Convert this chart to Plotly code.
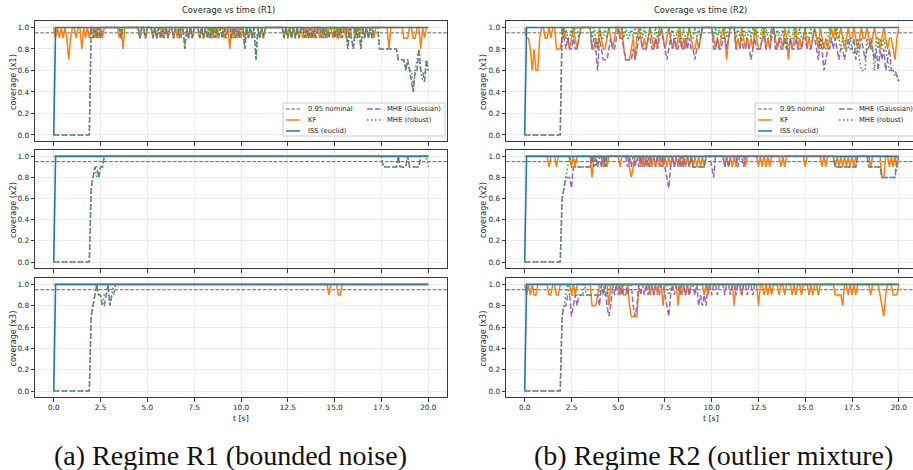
import numpy as np
import plotly.graph_objects as go

# ---------------- data ----------------
DT = 0.1          # sampling step of the coverage series [s]
T_END = 20.0
BASE = 1.0        # value of every sample not listed in a run list
NOMINAL = 0.95

X_TICKS = [0.0, 2.5, 5.0, 7.5, 10.0, 12.5, 15.0, 17.5, 20.0]
Y_TICKS = [0.0, 0.2, 0.4, 0.6, 0.8, 1.0]
STATES = ["x1", "x2", "x3"]
SERIES = ["KF", "ISS (euclid)", "MHE (Gaussian)", "MHE (robust)"]

# run lists: (t, v) single sample, (t0, t1, v) run, (t0, [v, v, ...]) consecutive samples
iss_runs = [(0.0, 0.0)]

# ---- Regime R1 ----
kf_r1_x1 = [(0.1, 0.9), (0.3, 0.9), (0.5, 0.9), (0.7, [0.9, 0.7, 0.9]), (1.2, 0.9), (1.5, 0.8),
            (1.7, 0.9), (1.9, 0.9), (2.2, 0.9), (2.4, 0.9), (2.6, 0.9), (3.5, 0.9), (3.7, 0.8),
            (4.6, 0.9), (4.9, 0.9), (5.3, 0.9), (5.5, 0.9), (5.8, 0.9), (6.1, 0.9), (6.4, 0.9),
            (6.6, 0.9), (6.8, 0.9), (7.2, 0.9), (7.4, 0.9), (7.8, 0.9), (8.0, 0.9), (8.3, 0.9),
            (8.5, 0.9), (8.7, 0.9), (9.1, 0.9), (9.4, 0.8), (9.6, 0.9), (9.8, 0.9), (10.0, 0.9),
            (10.2, 0.9), (10.4, 0.9), (10.6, 0.9), (11.0, 0.9), (11.2, 0.9), (12.3, 0.9),
            (12.5, 0.9), (12.7, 0.9), (12.9, 0.9), (13.1, 0.9), (13.3, 0.9), (13.5, 0.9),
            (13.7, 0.9), (13.9, 0.9), (14.2, 0.9), (14.4, 0.9), (14.6, 0.9), (14.9, 0.9),
            (15.1, 0.9), (15.3, 0.9), (15.6, 0.9), (15.8, 0.9), (16.1, 0.9), (16.3, 0.9),
            (16.6, 0.9), (16.8, 0.9), (17.1, 0.9), (17.9, 0.8), (18.7, 18.9, 0.9),
            (19.2, 19.3, 0.9), (19.6, 0.8), (19.8, 0.9)]
mhe_g_r1_x1 = [(0.0, 1.9, 0.0), (2.1, 0.9), (2.3, 0.9), (2.5, 0.9), (3.6, 0.9), (4.6, 0.9),
               (4.9, 0.9), (5.3, 0.9), (5.5, 0.9), (5.7, 0.9), (5.9, 0.9), (6.1, 0.9), (6.4, 0.9),
               (6.7, 0.9), (7.0, 0.8), (7.2, 0.9), (7.4, 0.9), (7.8, 0.9), (8.0, 0.9), (8.2, 0.9),
               (8.4, 0.9), (8.6, 0.9), (8.8, 0.9), (9.0, 0.9), (9.2, 0.9), (9.5, 0.9), (9.7, 0.9),
               (9.9, 0.9), (10.2, 0.8), (10.4, 0.9), (10.6, 0.9), (10.8, 0.7), (11.0, 0.9),
               (11.2, 0.9), (12.3, 0.9), (12.5, 0.9), (12.7, 0.9), (12.9, 0.9), (13.1, 0.9),
               (13.4, 0.9), (13.6, 0.9), (13.8, 0.9), (14.0, 0.9), (14.3, 0.9), (14.5, 0.9),
               (14.7, 0.9), (15.0, 0.9), (15.2, 0.9), (15.4, 0.9), (15.7, 0.8), (15.9, 0.9),
               (16.0, 0.8), (16.2, 0.9), (16.4, 0.8), (16.6, 0.9), (16.8, 0.9), (17.0, 0.9),
               (17.4, 18.3, 0.8), (18.4, 18.7, 0.7),
               (18.8, [0.6, 0.7, 0.6, 0.5, 0.4, 0.6, 0.6, 0.8, 0.6, 0.6, 0.5, 0.7, 0.6])]
mhe_r_r1_x1 = [(0.0, 1.9, 0.0), (2.1, 0.9), (2.3, 0.9), (2.5, 0.9), (3.6, 0.9), (4.6, 0.9),
               (4.9, 0.9), (5.3, 0.9), (5.5, 0.9), (5.7, 0.9), (5.9, 0.9), (6.1, 0.9), (6.4, 0.9),
               (6.7, 0.9), (7.0, 0.8), (7.2, 0.9), (7.4, 0.9), (7.8, 0.9), (8.0, 0.9), (8.2, 0.9),
               (8.4, 0.9), (8.6, 0.9), (8.8, 0.9), (9.0, 0.9), (9.2, 0.9), (9.5, 0.9), (9.7, 0.9),
               (9.9, 0.9), (10.2, 0.8), (10.4, 0.9), (10.6, 0.9), (10.8, 0.7), (11.0, 0.9),
               (11.2, 0.9), (12.3, 0.9), (12.5, 0.9), (12.7, 0.9), (12.9, 0.9), (13.1, 0.9),
               (13.4, 0.9), (13.6, 0.9), (13.8, 0.9), (14.0, 0.9), (14.3, 0.9), (14.5, 0.9),
               (14.7, 0.9), (15.0, 0.9), (15.2, 0.9), (15.4, 0.9), (15.7, 0.8), (15.9, 0.9),
               (16.0, 0.8), (16.2, 0.9), (16.4, 0.8), (16.6, 0.9), (16.8, 0.9), (17.0, 0.9),
               (17.4, 18.3, 0.8), (18.4, 18.7, 0.7),
               (18.8, [0.6, 0.7, 0.6, 0.6, 0.4, 0.6, 0.7, 0.8, 0.6, 0.5, 0.5, 0.7, 0.6])]

kf_r1_x2 = []
mhe_g_r1_x2 = [(0.0, 1.9, 0.0), (2.0, [0.7, 0.8, 0.9, 0.9, 0.8, 0.9, 0.9]),
               (17.6, 18.3, 0.9), (18.5, 18.8, 0.9), (19.0, 19.5, 0.9)]
mhe_r_r1_x2 = [(0.0, 1.9, 0.0), (2.0, [0.7, 0.8, 0.9, 0.8, 0.8, 0.9, 0.9]),
               (17.6, 18.3, 0.9), (18.5, 18.8, 0.9), (19.0, 19.5, 0.9), (20.0, 0.9)]

kf_r1_x3 = [(14.7, 0.9), (15.2, 15.3, 0.9)]
mhe_g_r1_x3 = [(0.0, 1.9, 0.0),
               (2.0, [0.7, 0.8, 0.9, 1.0, 0.9, 0.9, 0.8, 0.8, 0.9, 1.0, 0.8, 0.9, 0.9])]
mhe_r_r1_x3 = [(0.0, 1.9, 0.0),
               (2.0, [0.7, 0.8, 0.9, 1.0, 0.9, 0.9, 0.8, 0.9, 0.9, 1.0, 0.8, 0.9, 1.0])]

# ---- Regime R2 ----
kf_r2_x1 = [(0.1, [0.9, 0.9, 0.8, 0.6, 0.8, 0.6, 0.6, 0.9, 1.0, 1.0,
                   0.9, 0.9, 1.0, 0.9, 1.0, 1.0, 0.8, 0.8, 0.8, 0.9]),
            (2.1, [1.0, 0.9, 0.9, 0.8, 0.9, 1.0, 0.9, 0.8, 0.9, 1.0]),
            (3.6, [0.8, 0.8, 0.9, 0.8, 1.0, 0.9, 0.8, 0.8, 0.9, 1.0]),
            (4.6, [0.9, 0.8, 0.9, 1.0, 1.0, 0.9, 1.0]),
            (5.3, [0.8, 0.7, 0.7, 0.7, 0.8, 0.9, 0.7, 0.9, 1.0, 0.9]),
            (6.3, [0.8, 0.9, 0.8, 0.9, 1.0, 0.9, 0.8, 0.9, 0.8, 1.0]),
            (7.3, [1.0, 0.9, 0.8, 0.9, 1.0]),
            (7.8, [0.9, 0.8, 0.9, 0.8, 0.9, 1.0, 0.8, 0.9, 0.8, 0.9, 1.0]),
            (8.9, [0.9, 0.8, 0.8, 0.9, 0.8, 0.9, 1.0]),
            (10.1, [0.9, 0.8, 0.9, 0.8, 0.9, 1.0, 0.9, 0.7, 0.9]),
            (11.3, [0.8, 0.9, 0.8, 1.0, 0.9, 0.8, 0.9, 0.8, 0.9, 0.8, 1.0]),
            (12.4, [0.9, 0.8, 0.8, 0.9, 1.0, 0.8, 0.9, 0.8, 1.0]),
            (13.4, [0.9, 0.8, 0.9, 0.9, 0.8, 1.0, 0.9, 0.7, 0.9, 0.8, 0.9, 1.0]),
            (14.6, [0.8, 0.9, 0.8, 0.9, 1.0, 0.8, 0.9, 0.8, 0.9, 1.0]),
            (15.6, [0.9, 0.8, 1.0, 0.9, 0.8, 0.9, 0.8, 0.9, 1.0]),
            (16.5, [0.9, 1.0, 0.9, 0.9, 1.0, 0.9, 0.8, 0.9, 1.0, 0.9,
                    0.9, 1.0, 0.9, 0.8, 0.9, 1.0, 0.9, 0.9, 1.0, 0.9,
                    0.8, 0.9, 1.0, 0.9, 0.9, 0.8, 0.9, 1.0, 0.9, 0.8,
                    0.9, 0.9, 0.8, 0.7, 0.9, 1.0])]
mhe_g_r2_x1 = [(0.0, 1.9, 0.0),
               (2.0, [1.0, 0.9, 0.8, 0.9, 0.8, 0.8, 0.9, 0.8, 0.8, 0.9, 1.0]),
               (3.6, [0.8, 0.9, 0.8, 0.6, 0.9, 0.8, 0.7, 0.7, 0.7, 0.8, 0.9]),
               (4.7, [0.8, 0.8, 0.9, 1.0, 0.9, 0.9]),
               (5.3, [0.8, 0.7, 0.7, 0.7, 0.7, 0.8, 0.7, 0.8, 0.9, 0.9]),
               (6.3, [0.8, 0.8, 0.8, 0.9, 0.9, 0.8, 0.8, 0.9, 0.8, 0.9]),
               (7.3, [1.0, 0.9, 0.8, 0.7, 0.8, 0.9, 0.8]),
               (8.0, [0.9, 0.8, 0.8, 0.9, 0.8, 0.8, 0.9, 0.8, 0.9]),
               (8.9, [0.8, 0.8, 0.7, 0.8, 0.8, 0.9, 1.0]),
               (10.1, [0.8, 0.8, 0.9, 0.8, 0.8, 0.9, 0.9, 0.8, 0.9]),
               (11.3, [0.8, 0.8, 0.8, 0.9, 0.8, 0.8, 0.9, 0.8, 0.7, 0.8, 0.9]),
               (12.4, [0.8, 0.8, 0.8, 0.9, 0.9, 0.8, 0.8, 0.8, 0.9]),
               (13.4, [0.8, 0.8, 0.9, 0.8, 0.8, 0.9, 0.8, 0.8, 0.9, 0.8, 0.8, 0.9]),
               (14.6, [0.8, 0.8, 0.8, 0.9, 0.9, 0.8, 0.8, 0.8, 0.9, 0.9]),
               (15.6, [0.8, 0.7, 0.9, 0.8, 0.6, 0.7, 0.8, 0.8, 0.9]),
               (16.5, [0.8, 0.9, 0.8, 0.7, 0.8, 0.8, 0.7, 0.8, 0.9, 0.8,
                       0.8, 0.9, 0.7, 0.8, 0.8, 0.9, 0.8, 0.7, 0.8, 0.8,
                       0.9, 0.8, 0.7, 0.8, 0.6, 0.8, 0.7, 0.8, 0.6, 0.7,
                       0.8, 0.6, 0.6, 0.6, 0.55, 0.5])]
mhe_r_r2_x1 = [(0.0, 1.9, 0.0),
               (2.0, [1.0, 0.9, 1.0, 0.9, 0.9, 1.0, 0.9, 1.0, 1.0, 0.9, 1.0]),
               (3.6, [0.9, 1.0, 0.9, 0.8, 1.0, 0.9, 0.9, 1.0, 0.9, 1.0]),
               (5.3, [0.9, 1.0, 0.9, 0.9, 1.0, 0.9, 1.0, 0.9, 0.9, 1.0]),
               (6.3, [0.9, 1.0, 0.9, 0.9, 1.0, 0.9, 0.9, 1.0, 0.9, 1.0]),
               (7.8, [0.9, 1.0, 0.9, 0.9, 1.0, 0.9, 0.9, 1.0, 0.9, 0.9, 1.0]),
               (8.9, [0.9, 0.9, 1.0, 0.9, 1.0, 0.9, 1.0]),
               (10.1, [0.9, 1.0, 0.9, 1.0, 0.9, 0.9, 1.0, 0.9, 1.0]),
               (11.3, [0.9, 1.0, 0.9, 0.9, 1.0, 0.9, 0.9, 1.0, 0.9, 1.0, 0.9]),
               (12.4, [1.0, 0.9, 0.9, 1.0, 0.9, 1.0, 0.9, 0.9, 1.0]),
               (13.4, [0.9, 1.0, 0.9, 0.9, 1.0, 0.9, 0.8, 1.0, 0.9, 0.9, 1.0, 0.9]),
               (14.6, [0.9, 1.0, 0.9, 0.9, 1.0, 0.9, 0.9, 1.0, 0.9, 1.0]),
               (15.6, [0.9, 0.9, 0.8, 0.9, 0.8, 0.8, 0.9, 1.0, 0.9]),
               (16.5, [0.9, 0.9, 1.0, 0.9, 0.8, 0.9, 0.9, 0.8, 0.8, 0.9,
                       0.8, 0.75, 0.8, 0.9, 0.7, 0.6, 0.6, 0.6, 0.9, 0.8,
                       0.8, 0.8, 0.6, 0.9, 0.8, 0.9, 0.8, 0.9, 0.8, 0.7,
                       0.6, 0.6, 0.6, 0.55, 0.55, 0.5])]

kf_r2_x2 = [(1.3, 0.9), (1.7, 0.9), (2.5, 0.9), (2.7, 0.9), (3.6, 0.8), (4.2, 0.9), (4.4, 0.9),
            (5.1, 0.9), (5.6, [0.9, 0.8, 0.9]), (6.2, 0.9), (6.4, 0.9), (6.6, 0.9), (6.8, 0.9),
            (7.0, 0.9), (7.2, 0.9), (7.4, 0.9), (7.6, 0.9), (7.8, 0.9), (8.0, 0.9), (8.2, 0.9),
            (8.4, 0.9), (8.6, 0.9), (8.8, 0.9), (9.0, 0.9), (9.2, 0.9), (9.4, 0.9), (9.6, 0.9),
            (10.7, 0.9), (10.9, 0.9), (11.1, 0.9), (11.3, 0.9), (11.8, 0.9), (12.5, 0.9),
            (12.7, 0.9), (12.9, 0.9), (13.1, 0.9), (13.7, 0.9), (13.9, 0.9), (15.0, 0.9),
            (15.9, 0.9), (16.1, 0.9), (16.6, 0.9), (16.8, 0.9), (17.0, 0.9), (17.2, 0.9),
            (17.4, 0.9), (17.6, 0.9), (18.5, 0.9), (19.1, 19.2, 0.8), (19.5, 0.9), (19.7, 0.9),
            (19.9, 0.9)]
mhe_g_r2_x2 = [(0.0, 1.9, 0.0), (2.0, [0.6, 0.7, 0.8, 0.8, 0.8, 0.7, 0.9, 0.9, 0.9, 0.9]),
               (3.0, 3.5, 0.9), (3.7, 0.9), (3.9, 0.9), (4.1, 0.9), (4.3, 0.9), (5.5, 0.9),
               (5.7, 0.9), (5.9, 0.9), (6.1, 0.9), (6.3, 0.9), (6.5, 0.9), (6.7, 0.9), (7.0, 0.9),
               (7.3, 0.9), (7.5, 0.9), (7.6, [0.8, 0.7, 0.9]), (8.0, 0.9), (8.3, 0.9), (8.5, 0.9),
               (8.8, 0.9), (9.0, 9.6, 0.9), (10.0, [0.9, 0.8]), (10.7, 0.9), (10.9, 0.9),
               (11.4, 0.9), (11.7, 0.9), (16.6, 17.7, 0.9), (18.4, 19.0, 0.9), (19.1, 19.8, 0.8)]
mhe_r_r2_x2 = [(0.0, 1.9, 0.0), (2.0, [0.6, 0.7, 0.8, 0.9, 1.0, 0.9]), (2.6, 3.5, 0.9),
               (3.8, 0.9), (4.3, 0.9), (9.0, 9.6, 0.9), (16.6, 17.7, 0.9), (18.4, 19.0, 0.9),
               (19.1, 19.8, 0.8), (19.9, 0.9)]

kf_r2_x3 = [(0.1, 0.9), (0.3, 0.9), (0.5, 0.9), (0.6, 0.9), (1.3, 1.4, 0.9), (1.7, 1.8, 0.9),
            (2.5, 0.9), (2.7, 0.9), (3.6, 3.8, 0.8), (3.9, 0.9), (4.5, 0.8), (5.1, 0.9),
            (5.3, 5.4, 0.9), (5.6, [0.8, 0.7, 0.7, 0.7, 0.7]), (6.7, 0.9), (6.9, 0.9), (7.1, 0.9),
            (7.4, 0.8), (8.2, 0.8), (8.4, 0.9), (8.6, 0.9), (8.8, 0.9), (9.6, 0.9), (9.8, 0.9),
            (11.2, 0.8), (11.6, 0.9), (12.5, 0.8), (12.8, 0.9), (13.0, 0.9), (13.2, 0.9),
            (13.6, 0.9), (13.9, 0.9), (14.3, 0.9), (14.5, 0.9), (14.8, 0.9), (15.2, 0.9),
            (15.4, 0.9), (15.7, 0.9), (16.6, 16.9, 0.9), (17.0, 0.8), (17.3, 0.9), (17.5, 0.9),
            (17.7, 0.9), (18.5, 0.9), (19.0, [0.9, 0.8, 0.7, 0.9]), (19.7, 19.9, 0.9)]
mhe_g_r2_x3 = [(0.0, 1.9, 0.0), (2.0, [0.7, 0.8, 0.8, 0.9, 0.9, 0.7, 0.8, 0.9, 0.8, 0.9]),
               (3.0, 3.9, 0.9), (4.0, 0.8), (4.2, 0.9), (4.4, [0.8, 0.7, 0.8]), (4.8, 0.9),
               (5.0, 0.9), (5.2, 0.9), (5.5, 0.9), (5.8, [0.8, 0.7, 0.8]), (6.2, 0.9), (6.4, 0.9),
               (6.6, 0.9), (6.9, 0.9), (7.2, 0.9), (7.5, [0.9, 0.8, 0.7, 0.9]), (8.0, 0.9),
               (8.3, 0.9), (8.6, 0.9), (8.8, 0.9), (9.1, 0.9), (9.3, [0.8, 0.9, 0.8, 0.9, 0.8]),
               (10.0, 0.9), (10.3, 0.9), (10.7, 0.9), (11.0, 0.9), (11.3, 0.9), (11.6, 0.9),
               (11.9, 0.9), (12.2, 0.9)]
mhe_r_r2_x3 = [(0.0, 1.9, 0.0), (2.0, [0.7, 0.8, 0.9, 1.0]), (2.4, 4.0, 0.9), (3.2, 1.0),
               (4.3, 0.9), (4.4, 0.9), (7.7, 0.9)]

REGIMES = {
    "R1": [(kf_r1_x1, iss_runs, mhe_g_r1_x1, mhe_r_r1_x1),
           (kf_r1_x2, iss_runs, mhe_g_r1_x2, mhe_r_r1_x2),
           (kf_r1_x3, iss_runs, mhe_g_r1_x3, mhe_r_r1_x3)],
    "R2": [(kf_r2_x1, iss_runs, mhe_g_r2_x1, mhe_r_r2_x1),
           (kf_r2_x2, iss_runs, mhe_g_r2_x2, mhe_r_r2_x2),
           (kf_r2_x3, iss_runs, mhe_g_r2_x3, mhe_r_r2_x3)],
}
TITLES = {"R1": "Coverage vs time (R1)", "R2": "Coverage vs time (R2)"}
CAPTIONS = {"R1": "(a) Regime R1 (bounded noise)", "R2": "(b) Regime R2 (outlier mixture)"}

# ---------------- helpers ----------------
N = int(round(T_END / DT)) + 1
T = np.round(np.arange(N) * DT, 1)


def idx(t):
    return int(round(t / DT))


def build(runs):
    v = np.full(N, BASE, dtype=float)
    for r in runs:
        if len(r) == 2 and isinstance(r[1], list):
            i0 = idx(r[0])
            vals = r[1][: max(0, N - i0)]
            v[i0:i0 + len(vals)] = vals
        elif len(r) == 2:
            v[idx(r[0])] = r[1]
        else:
            v[idx(r[0]):idx(r[1]) + 1] = r[2]
    return v


# ---------------- styling ----------------
W, H = 913, 470
STYLE = {
    "KF": dict(color="#ff7f0e", width=1.5, dash="solid"),
    "ISS (euclid)": dict(color="#1f77b4", width=1.6, dash="solid"),
    "MHE (Gaussian)": dict(color="#9467bd", width=1.5, dash="5.5px,2.5px"),
    "MHE (robust)": dict(color="#2ca02c", width=1.5, dash="1.5px,2.5px"),
}
NOM_STYLE = dict(color="#666666", width=1, dash="3.7px,1.6px")
FONT = "DejaVu Sans"
TXT = "#262626"


def px(x):
    return x / W


def py(y):
    return 1 - y / H


ROWS_PX = [(21, 141), (150, 268), (278, 397)]
PANELS = {
    "R1": dict(x=(35, 447), xr=[-1.0, 21.0], mirror_y=True, title_x=228, ylab_x=13, xlab_x=241,
               cap_x=231, leg_x=283, leg_w=162),
    "R2": dict(x=(506, 913), xr=[-1.0, 20.76], mirror_y=False, title_x=700, ylab_x=483, xlab_x=711,
               cap_x=713, leg_x=755, leg_w=162),
}
Y_RANGE = [-0.056, 1.06]

fig = go.Figure()
layout = dict(width=W, height=H, margin=dict(l=0, r=0, t=0, b=0), autosize=False,
              paper_bgcolor="white", plot_bgcolor="white", showlegend=False)
annotations, shapes = [], []

axis_common = dict(showline=True, linecolor="#3a3a3a", linewidth=1, ticks="outside", ticklen=3.5,
                   tickwidth=1, tickcolor="#3a3a3a", showgrid=True, gridcolor="#ebebeb",
                   gridwidth=0.8, zeroline=False,
                   tickfont=dict(family=FONT, size=7.3, color=TXT))


def note(text, x, y, size, **kw):
    d = dict(text=text, x=px(x), y=py(y), xref="paper", yref="paper", showarrow=False,
             xanchor="center", yanchor="middle", font=dict(family=FONT, size=size, color=TXT))
    d.update(kw)
    return d


k = 0
for reg, panel in PANELS.items():
    for r, (y0, y1) in enumerate(ROWS_PX):
        k += 1
        xa = "x" if k == 1 else f"x{k}"
        ya = "y" if k == 1 else f"y{k}"
        layout["xaxis" if k == 1 else f"xaxis{k}"] = dict(
            axis_common, domain=[px(panel["x"][0]), px(panel["x"][1])], range=panel["xr"],
            anchor=ya, tickmode="array", tickvals=X_TICKS,
            ticktext=[f"{v:.1f}" for v in X_TICKS], showticklabels=(r == 2), mirror=True)
        layout["yaxis" if k == 1 else f"yaxis{k}"] = dict(
            axis_common, domain=[py(y1), py(y0)], range=Y_RANGE, anchor=xa,
            tickmode="array", tickvals=Y_TICKS, ticktext=[f"{v:.1f}" for v in Y_TICKS],
            mirror=panel["mirror_y"])
        # nominal line first (bottom), then the estimators
        fig.add_trace(go.Scatter(x=[panel["xr"][0], T_END + 1.0], y=[NOMINAL, NOMINAL],
                                 mode="lines", line=NOM_STYLE, xaxis=xa, yaxis=ya,
                                 hoverinfo="skip", name="0.95 nominal"))
        for name, runs in zip(SERIES, REGIMES[reg][r]):
            fig.add_trace(go.Scatter(x=T, y=build(runs), mode="lines", line=STYLE[name],
                                     xaxis=xa, yaxis=ya, name=name, hoverinfo="skip"))
        annotations.append(note(f"coverage ({STATES[r]})", panel["ylab_x"], (y0 + y1) / 2 + 1,
                                8, textangle=-90))
    annotations.append(note(TITLES[reg], panel["title_x"], 10, 8.3))
    annotations.append(note("t [s]", panel["xlab_x"], 418, 7.8))
    annotations.append(note(CAPTIONS[reg], panel["cap_x"], 455, 28,
                            font=dict(family="Liberation Serif", size=28, color="#111111")))
    # legend (drawn as a framed box inside the top subplot)
    lx = panel["leg_x"]
    shapes.append(dict(type="rect", xref="paper", yref="paper", x0=px(lx), x1=px(lx + panel["leg_w"]),
                       y0=py(136), y1=py(103), fillcolor="rgba(255,255,255,0.85)",
                       line=dict(color="#cccccc", width=1), layer="above"))
    entries = [("0.95 nominal", NOM_STYLE, 0, 23, 109),
               ("KF", dict(STYLE["KF"], width=2), 0, 23, 120),
               ("ISS (euclid)", dict(STYLE["ISS (euclid)"], width=2), 0, 23, 131),
               ("MHE (Gaussian)", STYLE["MHE (Gaussian)"], 81, 102, 109),
               ("MHE (robust)", STYLE["MHE (robust)"], 81, 102, 120)]
    for label, st, dx, tx, yy in entries:
        shapes.append(dict(type="line", xref="paper", yref="paper", x0=px(lx + 3 + dx),
                           x1=px(lx + 17 + dx), y0=py(yy), y1=py(yy),
                           line=dict(color=st["color"], width=st["width"], dash=st["dash"]),
                           opacity=0.75 if label in ("KF", "ISS (euclid)") else 1.0,
                           layer="above"))
        annotations.append(note(label, lx + tx, yy, 6.8, xanchor="left"))

layout["annotations"] = annotations
layout["shapes"] = shapes
fig.update_layout(**layout)
fig.write_html("out.html")
